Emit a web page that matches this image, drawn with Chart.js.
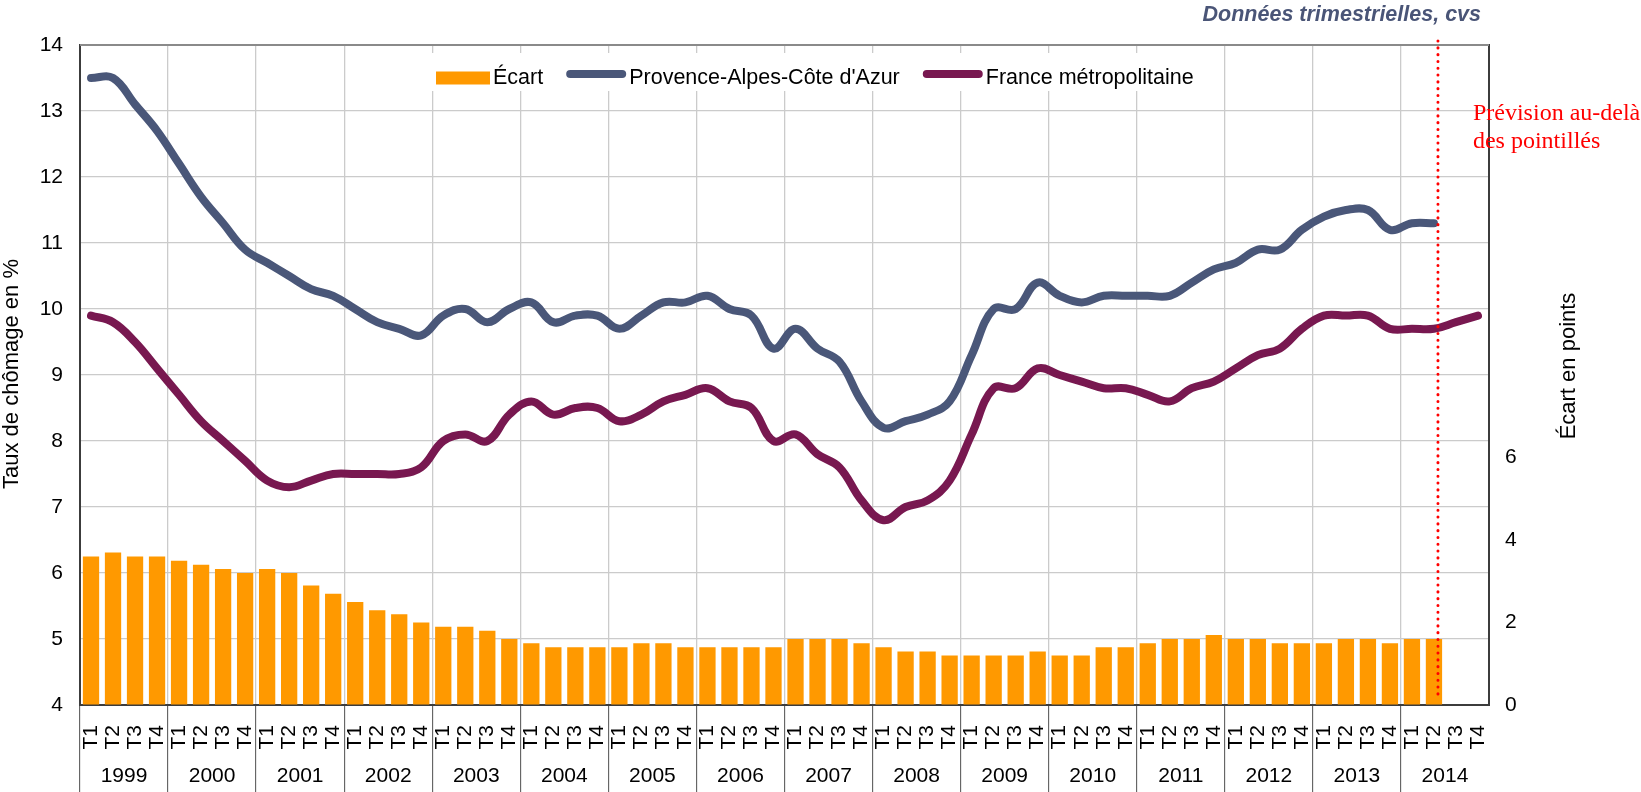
<!DOCTYPE html>
<html lang="fr">
<head>
<meta charset="utf-8">
<title>Taux de chômage trimestriel</title>
<script src="https://cdn.jsdelivr.net/npm/chart.js@4.4.1/dist/chart.umd.min.js"></script>
<style>
  html, body { margin: 0; padding: 0; background: #fff; }
  #wrap { width: 1641px; height: 792px; }
</style>
</head>
<body>
<div id="wrap"><canvas id="chart" width="1641" height="792"></canvas></div>
<script>
// Séries trimestrielles cvs, 1999 T1 -> 2014 T4
const annees = ['1999','2000','2001','2002','2003','2004','2005','2006',
                '2007','2008','2009','2010','2011','2012','2013','2014'];
const trimestres = annees.flatMap(() => ['T1','T2','T3','T4']);

// Taux de chômage PACA (%), connu jusqu'à 2014 T2
const paca = [
  13.5, 13.5, 13.1, 12.7,  12.2, 11.7, 11.3, 10.9,  10.7, 10.5, 10.3, 10.2,  10.0, 9.8, 9.7, 9.6,
  9.9, 10.0, 9.8, 10.0,  10.1, 9.8, 9.9, 9.9,  9.7, 9.9, 10.1, 10.1,  10.2, 10.0, 9.9, 9.4,
  9.7, 9.4, 9.2, 8.6,  8.2, 8.3, 8.4, 8.6,  9.3, 10.0, 10.0, 10.4,  10.2, 10.1, 10.2, 10.2,
  10.2, 10.2, 10.4, 10.6,  10.7, 10.9, 10.9, 11.2,  11.4, 11.5, 11.5, 11.2,  11.3, 11.3
];
// Taux de chômage France métropolitaine (%), prévision au-delà de 2014 T2
const france = [
  9.9, 9.8, 9.5, 9.1,  8.7, 8.3, 8.0, 7.7,  7.4, 7.3, 7.4, 7.5,  7.5, 7.5, 7.5, 7.6,
  8.0, 8.1, 8.0, 8.4,  8.6, 8.4, 8.5, 8.5,  8.3, 8.4, 8.6, 8.7,  8.8, 8.6, 8.5, 8.0,
  8.1, 7.8, 7.6, 7.1,  6.8, 7.0, 7.1, 7.4,  8.1, 8.8, 8.8, 9.1,  9.0, 8.9, 8.8, 8.8,
  8.7, 8.6, 8.8, 8.9,  9.1, 9.3, 9.4, 9.7,  9.9, 9.9, 9.9, 9.7,  9.7, 9.7, 9.8, 9.9
];
// Écart PACA - France (points)
const ecart = [
  3.6, 3.7, 3.6, 3.6,  3.5, 3.4, 3.3, 3.2,  3.3, 3.2, 2.9, 2.7,  2.5, 2.3, 2.2, 2.0,
  1.9, 1.9, 1.8, 1.6,  1.5, 1.4, 1.4, 1.4,  1.4, 1.5, 1.5, 1.4,  1.4, 1.4, 1.4, 1.4,
  1.6, 1.6, 1.6, 1.5,  1.4, 1.3, 1.3, 1.2,  1.2, 1.2, 1.2, 1.3,  1.2, 1.2, 1.4, 1.4,
  1.5, 1.6, 1.6, 1.7,  1.6, 1.6, 1.5, 1.5,  1.5, 1.6, 1.6, 1.5,  1.6, 1.6
];

const FONT = '"Liberation Sans", Arial, sans-serif';
Chart.defaults.font.family = FONT;
Chart.defaults.font.size = 21;
Chart.defaults.color = '#000';

// Cadre, légende, pointillés de prévision et textes
const habillage = {
  id: 'habillage',
  beforeDatasetsDraw(chart) {
    const { ctx, chartArea: a } = chart;
    ctx.save();
    ctx.strokeStyle = '#8a8a8a';
    ctx.lineWidth = 2;
    ctx.beginPath(); ctx.moveTo(a.left, a.top); ctx.lineTo(a.right, a.top); ctx.stroke();

    // légende sur fond blanc
    ctx.fillStyle = '#fff';
    ctx.fillRect(426, 53, 785, 38);
    ctx.font = '21.5px ' + FONT;
    ctx.textBaseline = 'middle';
    ctx.textAlign = 'left';
    let x = 436; const yc = 78;
    chart.data.datasets.forEach(ds => {
      if (ds.type === 'bar') {
        ctx.fillStyle = ds.backgroundColor;
        ctx.fillRect(x, yc - 6.5, 54, 13);
        x += 54;
      } else {
        ctx.strokeStyle = ds.borderColor;
        ctx.lineWidth = 8;
        ctx.lineCap = 'round';
        ctx.beginPath(); ctx.moveTo(x + 4, yc - 4); ctx.lineTo(x + 56, yc - 4); ctx.stroke();
        x += 60;
      }
      ctx.fillStyle = '#000';
      ctx.fillText(ds.label, x + 3, yc);
      x += 3 + ctx.measureText(ds.label).width + 23;
    });
    ctx.restore();
  },
  afterDatasetsDraw(chart) {
    const { ctx, chartArea: a } = chart;
    const xd = chart.scales.x.getPixelForValue(paca.length - 1) + 4;
    ctx.save();
    ctx.strokeStyle = '#ff0000';
    ctx.lineWidth = 3;
    ctx.lineCap = 'round';
    ctx.setLineDash([0.1, 6.7]);
    ctx.beginPath(); ctx.moveTo(xd, a.top - 4); ctx.lineTo(xd, a.bottom - 9); ctx.stroke();
    ctx.setLineDash([]);

    ctx.fillStyle = '#ff0000';
    ctx.font = '24px "Liberation Serif", "Times New Roman", serif';
    ctx.textAlign = 'left';
    ctx.textBaseline = 'alphabetic';
    ctx.fillText('Prévision au-delà', xd + 35, 120);
    ctx.fillText('des pointillés', xd + 35, 148);
    ctx.restore();
  },
  afterDraw(chart) {
    const { ctx } = chart;
    ctx.save();
    ctx.fillStyle = '#4a5577';
    ctx.font = 'italic bold 21.5px ' + FONT;
    ctx.textAlign = 'right';
    ctx.textBaseline = 'alphabetic';
    ctx.fillText('Données trimestrielles, cvs', 1481, 21);

    ctx.fillStyle = '#000';
    ctx.font = '22px ' + FONT;
    ctx.textAlign = 'center';
    ctx.textBaseline = 'middle';
    ctx.save();
    ctx.translate(12, 374); ctx.rotate(-Math.PI / 2);
    ctx.fillText('Taux de chômage en %', 0, 0);
    ctx.restore();
    ctx.save();
    ctx.translate(1569, 366); ctx.rotate(-Math.PI / 2);
    ctx.fillText('Écart en points', 0, 0);
    ctx.restore();
    ctx.restore();
  }
};

new Chart(document.getElementById('chart'), {
  type: 'bar',
  data: {
    labels: trimestres,
    datasets: [
      { type: 'bar', label: 'Écart', data: ecart, yAxisID: 'y1',
        backgroundColor: '#ff9900', barPercentage: 0.74, categoryPercentage: 1, order: 3 },
      { type: 'line', label: "Provence-Alpes-Côte d'Azur", data: paca, yAxisID: 'y',
        borderColor: '#4a5779', borderWidth: 8, pointRadius: 0, tension: 0.4,
        borderCapStyle: 'round', borderJoinStyle: 'round', order: 2 },
      { type: 'line', label: 'France métropolitaine', data: france, yAxisID: 'y',
        borderColor: '#781850', borderWidth: 8, pointRadius: 0, tension: 0.4,
        borderCapStyle: 'round', borderJoinStyle: 'round', order: 1 }
    ]
  },
  options: {
    responsive: false,
    animation: false,
    layout: { padding: { top: 45, left: 0, right: 0, bottom: 0 } },
    plugins: { legend: { display: false }, tooltip: { enabled: false } },
    scales: {
      x: {
        position: 'bottom',
        offset: true,
        grid: {
          offset: true,
          color: c => c.index % 4 === 0 ? '#cbcbcb' : 'rgba(0,0,0,0)',
          tickColor: c => c.index % 4 === 0 ? '#4d4d4d' : 'rgba(0,0,0,0)',
          lineWidth: 1.3, tickWidth: 1, tickLength: 87
        },
        border: { color: '#3c3c3c', width: 2 },
        ticks: { autoSkip: false, minRotation: 90, maxRotation: 90, padding: -67 },
        afterFit: s => { s.height = 45; }
      },
      x2: {
        type: 'category',
        labels: annees,
        position: 'bottom',
        offset: true,
        grid: { display: false, drawTicks: false },
        border: { display: false },
        ticks: { autoSkip: false, maxRotation: 0, padding: 14 },
        afterFit: s => { s.height = 42; }
      },
      y: {
        position: 'left',
        min: 4, max: 14,
        ticks: { stepSize: 1, padding: 17 },
        grid: { color: '#cbcbcb', lineWidth: 1.3, drawTicks: false },
        border: { color: '#3c3c3c', width: 2 },
        afterFit: s => { s.width = 80; }
      },
      y1: {
        position: 'right',
        min: 0, max: 16,
        ticks: { stepSize: 2, padding: 16, callback: v => v <= 6 ? v : '' },
        grid: { drawOnChartArea: false, drawTicks: false },
        border: { color: '#3c3c3c', width: 2 },
        afterFit: s => { s.width = 152; }
      }
    }
  },
  plugins: [habillage]
});
</script>
</body>
</html>
